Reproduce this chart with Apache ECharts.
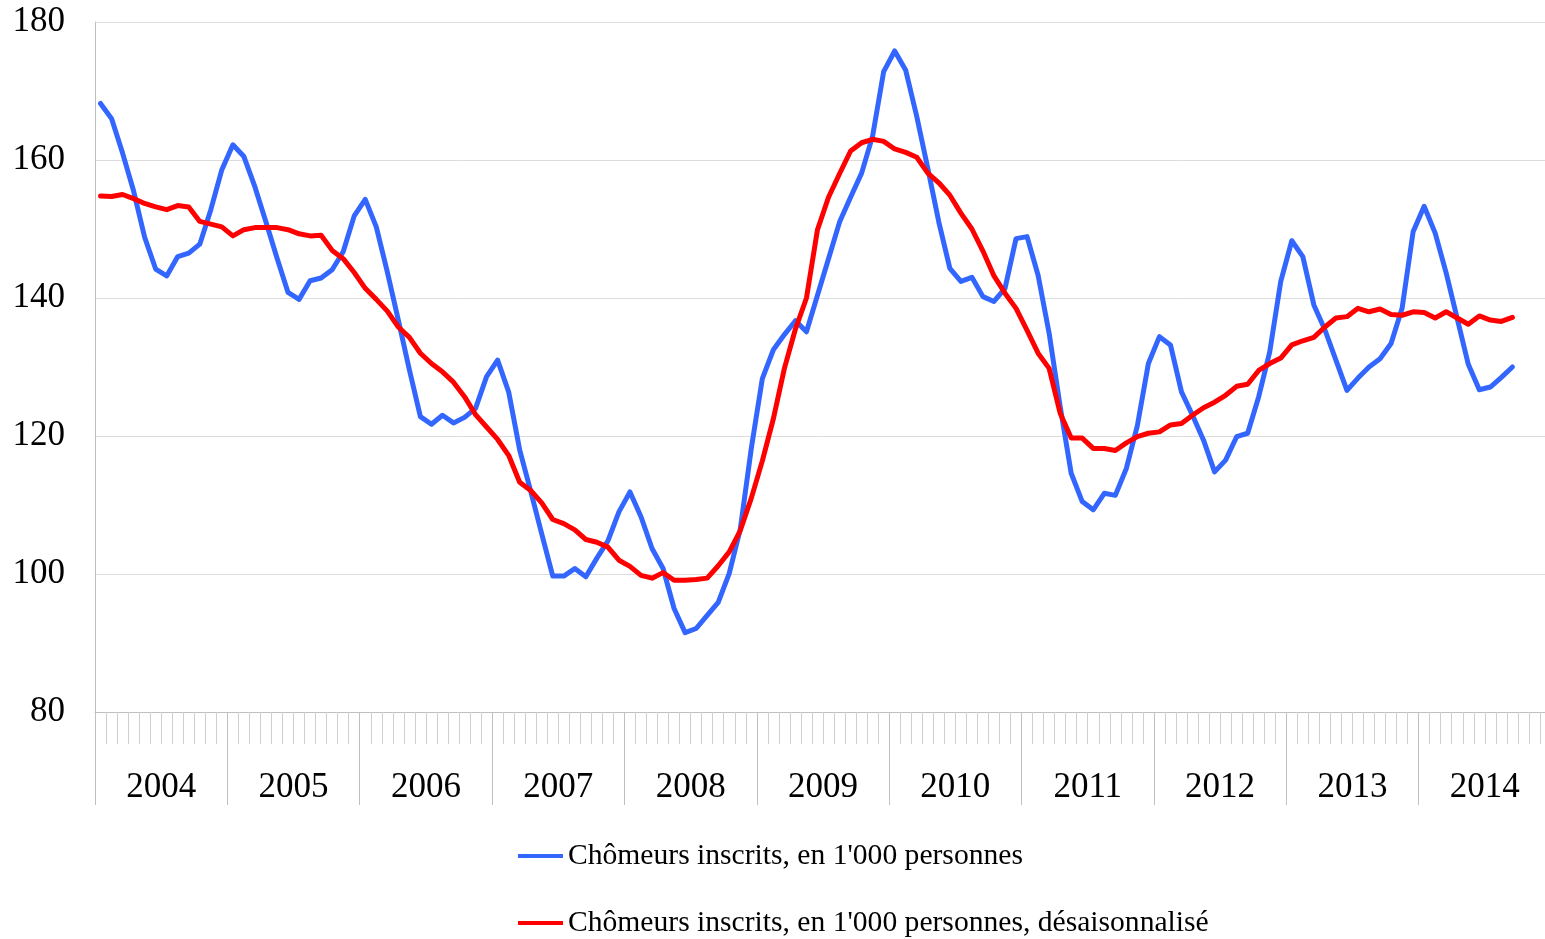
<!DOCTYPE html>
<html>
<head>
<meta charset="utf-8">
<script src="https://cdn.jsdelivr.net/npm/echarts@6/dist/echarts.min.js"></script>
<style>
  html, body { margin: 0; padding: 0; background: #ffffff; }
  #chart { width: 1545px; height: 939px; }
</style>
</head>
<body>
<div id="chart"></div>
<script>
// Year groups on the category axis (each year holds 12 monthly slots)
var years = ['2004', '2005', '2006', '2007', '2008', '2009', '2010', '2011', '2012', '2013', '2014'];

// Y axis tick values
var yTicks = [80, 100, 120, 140, 160, 180];

// Registered unemployed, thousands of persons (monthly, Jan 2004 – Sep 2014)
var chomeurs = [
  168.2, 166.0, 161.0, 155.5, 148.8, 144.2, 143.2, 146.0, 146.5, 147.8, 152.8, 158.6,
  162.2, 160.5, 156.1, 151.0, 145.8, 140.8, 139.8, 142.5, 142.9, 144.1, 146.7, 151.9,
  154.3, 150.3, 143.8, 136.8, 129.6, 122.8, 121.7, 123.0, 121.9, 122.7, 124.0, 128.6,
  131.0, 126.4, 118.0, 112.0, 105.8, 99.7, 99.7, 100.8, 99.6, 102.3, 104.8, 109.0,
  111.9, 108.3, 103.7, 100.8, 95.0, 91.5, 92.1, 94.0, 95.9, 100.1, 106.5, 118.2,
  128.3, 132.5, 134.7, 136.7, 135.1, 140.4, 145.7, 151.0, 154.6, 158.1, 163.5, 172.8,
  175.8, 173.0, 166.3, 158.8, 151.0, 144.3, 142.4, 143.0, 140.2, 139.5, 141.4, 148.6,
  148.9, 143.3, 134.9, 124.3, 114.6, 110.5, 109.3, 111.7, 111.4, 115.3, 121.5, 130.5,
  134.4, 133.2, 126.4, 123.0, 119.4, 114.8, 116.5, 119.9, 120.4, 125.7, 132.2, 142.4,
  148.3, 146.0, 139.0, 135.4, 131.0, 126.6, 128.4, 130.0, 131.2, 133.4, 138.5, 149.6,
  153.3, 149.4, 143.6, 137.0, 130.4, 126.7, 127.1, 128.5, 130.0
];

// Same series, seasonally adjusted
var chomeursDesais = [
  154.8, 154.7, 155.0, 154.4, 153.7, 153.2, 152.8, 153.4, 153.2, 151.1, 150.7, 150.3,
  149.0, 149.9, 150.2, 150.2, 150.2, 149.9, 149.3, 149.0, 149.1, 146.9, 145.7, 143.7,
  141.4, 139.8, 138.1, 135.8, 134.3, 132.0, 130.5, 129.3, 127.8, 125.7, 123.1, 121.3,
  119.5, 117.2, 113.3, 112.1, 110.3, 107.9, 107.3, 106.4, 105.0, 104.6, 103.9, 102.0,
  101.1, 99.8, 99.4, 100.2, 99.1, 99.1, 99.2, 99.4, 101.2, 103.2, 106.3, 111.0,
  116.4, 122.5, 129.8, 135.5, 140.0, 149.9, 154.6, 158.0, 161.3, 162.5, 163.0, 162.7,
  161.6, 161.1, 160.4, 158.1, 156.7, 154.9, 152.3, 150.0, 146.8, 143.2, 140.7, 138.5,
  135.3, 132.0, 129.8, 123.3, 119.7, 119.7, 118.2, 118.2, 117.9, 119.0, 119.9, 120.4,
  120.6, 121.6, 121.8, 123.0, 124.1, 124.9, 125.9, 127.2, 127.5, 129.5, 130.5, 131.3,
  133.2, 133.8, 134.3, 135.8, 137.1, 137.3, 138.5, 138.0, 138.4, 137.6, 137.5, 138.0,
  137.9, 137.1, 138.0, 137.1, 136.2, 137.4, 136.8, 136.6, 137.2
];

var seriesNames = [
  "Chômeurs inscrits, en 1'000 personnes",
  "Chômeurs inscrits, en 1'000 personnes, désaisonnalisé"
];

// Monthly category slots built from the year list
var months = [];
years.forEach(function (y) {
  for (var m = 1; m <= 12; m++) months.push(y + '-' + (m < 10 ? '0' + m : m));
});

var serif = "'Liberation Serif', 'Times New Roman', serif";
var axisGray = '#c0c0c0';

function legendFor(name, top) {
  return {
    left: 518,
    top: top,
    padding: 0,
    itemWidth: 45,
    itemHeight: 4,
    icon: 'rect',
    textStyle: { fontFamily: serif, fontSize: 29.6, color: '#000000' },
    data: [name]
  };
}

var chart = echarts.init(document.getElementById('chart'), null, { renderer: 'canvas' });
chart.setOption({
  animation: false,
  backgroundColor: '#ffffff',
  // the last year group runs a few pixels past the right edge of the canvas
  grid: { left: 95, top: 22, width: 1456, height: 690, outerBoundsMode: 'none', containLabel: false },
  legend: [legendFor(seriesNames[0], 841), legendFor(seriesNames[1], 908)],
  xAxis: [
    {
      type: 'category',
      data: months,
      boundaryGap: true,
      axisLine: { show: true, lineStyle: { color: axisGray, width: 1 } },
      axisTick: { show: true, interval: 0, length: 32, lineStyle: { color: '#cfcfcf', width: 1 } },
      axisLabel: { show: false },
      splitLine: { show: false }
    },
    {
      type: 'category',
      data: years,
      position: 'bottom',
      boundaryGap: true,
      axisLine: { show: false },
      axisTick: { show: true, interval: 0, length: 93, lineStyle: { color: axisGray, width: 1 } },
      axisLabel: { show: true, interval: 0, margin: 58, fontFamily: serif, fontSize: 35, color: '#000000' },
      splitLine: { show: false }
    }
  ],
  yAxis: {
    type: 'value',
    min: yTicks[0],
    max: yTicks[yTicks.length - 1],
    interval: 20,
    axisLine: { show: true, lineStyle: { color: axisGray, width: 1 } },
    axisTick: { show: false },
    axisLabel: { margin: 30, fontFamily: serif, fontSize: 35, color: '#000000', padding: [8, 0, 0, 0] },
    splitLine: { show: true, lineStyle: { color: '#dcdcdc', width: 1 } }
  },
  series: [
    {
      name: seriesNames[0],
      type: 'line',
      xAxisIndex: 0,
      data: chomeurs,
      symbol: 'none',
      color: '#3366ff',
      lineStyle: { width: 5, color: '#3366ff', join: 'round', cap: 'round' },
      z: 2
    },
    {
      name: seriesNames[1],
      type: 'line',
      xAxisIndex: 0,
      data: chomeursDesais,
      symbol: 'none',
      color: '#ff0000',
      lineStyle: { width: 5, color: '#ff0000', join: 'round', cap: 'round' },
      z: 3
    }
  ]
});
</script>
</body>
</html>
